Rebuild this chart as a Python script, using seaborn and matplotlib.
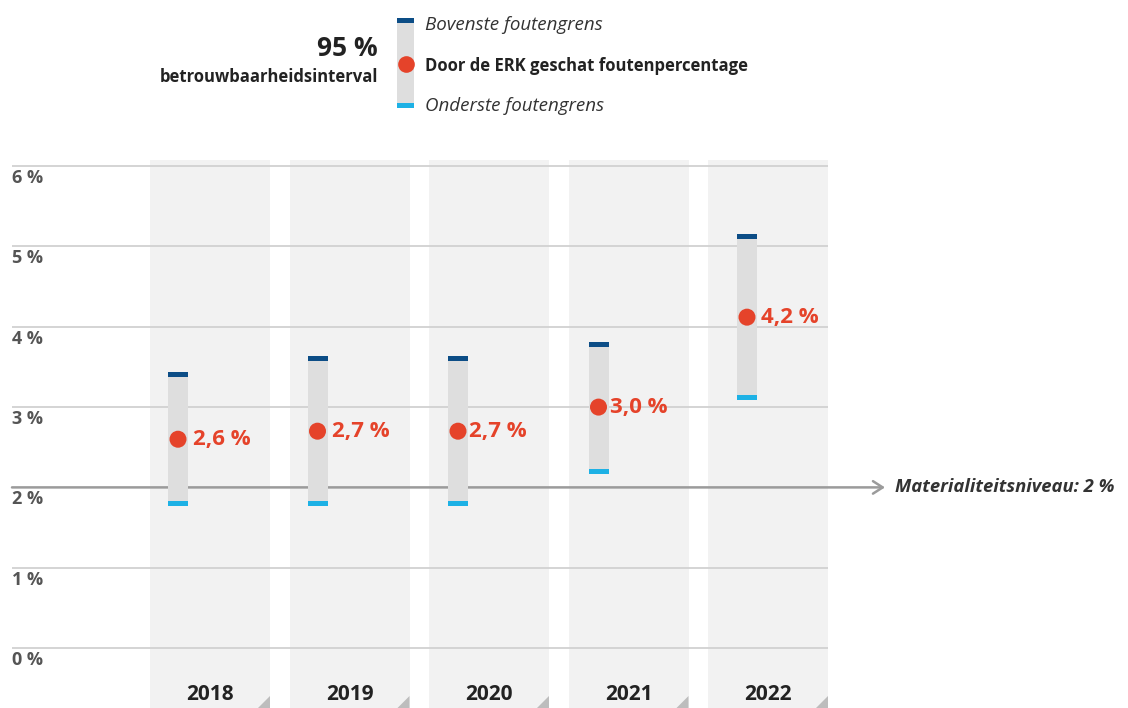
import numpy as np
import pandas as pd
import matplotlib
matplotlib.use("Agg")
import matplotlib.pyplot as plt
from matplotlib.patches import Rectangle
import seaborn as sns

# ---- data ----
years = ["2018", "2019", "2020", "2021", "2022"]
estimate = [2.6, 2.7, 2.7, 3.0, 4.12]
upper = [3.4, 3.6, 3.6, 3.78, 5.12]
lower = [1.8, 1.8, 1.8, 2.2, 3.12]
value_labels = ["2,6 %", "2,7 %", "2,7 %", "3,0 %", "4,2 %"]
y_ticks = [0, 1, 2, 3, 4, 5, 6]
y_tick_labels = ["0 %", "1 %", "2 %", "3 %", "4 %", "5 %", "6 %"]
materiality = 2.0
materiality_label = "Materialiteitsniveau: 2 %"

# ---- layout (pixels) ----
bar_offsets_px = [-32, -32, -31, -30, -21]
label_offsets_px = [15, 14, 11, 12, 14]

sns.set_style("white")
plt.rcParams["font.family"] = ["Open Sans", "DejaVu Sans"]

W, H = 1128, 708
fig = plt.figure(figsize=(W / 100, H / 100), dpi=100)
ax = fig.add_axes([0, 0, 1, 1])
ax.set_axis_off()

PX_PER_Y = 80.3
Y0_PX = 648
PX_PER_X = 139.5
X0_PX = 210
ax.set_xlim(-X0_PX / PX_PER_X, (W - X0_PX) / PX_PER_X)
ax.set_ylim((Y0_PX - H) / PX_PER_Y, Y0_PX / PX_PER_Y)
ybot = (Y0_PX - H) / PX_PER_Y

RED = "#E5432A"
DARKBLUE = "#0C4D86"
LIGHTBLUE = "#1DB1E5"
BARGREY = "#DEDEDE"
COLBG = "#F2F2F2"
GRID = "#D4D4D4"

x = np.arange(len(years))
col_w = 120 / PX_PER_X
bar_w = 20 / PX_PER_X

# column backgrounds
col_top = 6.08
ax.bar(x, col_top - ybot, bottom=ybot, width=col_w, color=COLBG, zorder=0, linewidth=0)

# corner triangles
tri_w = 12 / PX_PER_X
tri_h = 12 / PX_PER_Y
for xi in x:
    xr = xi + col_w / 2
    ax.fill([xr, xr, xr - tri_w], [ybot, ybot + tri_h, ybot], color="#BDBDBD", zorder=1, linewidth=0)

# gridlines
g_left = (12 - X0_PX) / PX_PER_X
g_right = (828 - X0_PX) / PX_PER_X
ax.hlines([t for t in y_ticks if t != materiality], g_left, g_right, color=GRID, lw=1.4, zorder=1)

# materiality line with arrow
arrow_end = (885 - X0_PX) / PX_PER_X
ax.annotate("", xy=(arrow_end, materiality), xytext=(g_left, materiality),
            arrowprops=dict(arrowstyle="->,head_length=0.7,head_width=0.45",
                            color="#9B9B9B", lw=1.8, shrinkA=0, shrinkB=0),
            zorder=2)
ax.text((895 - X0_PX) / PX_PER_X, materiality, materiality_label, fontsize=13.3,
        fontweight="bold", fontstyle="italic", color="#333333", va="center", ha="left")

# y tick labels
ytr = ax.get_yaxis_transform()
for t, lab in zip(y_ticks, y_tick_labels):
    ax.text(12 / W, t - 12 / PX_PER_Y, lab, transform=ytr, fontsize=13, fontweight="bold",
            color="#555555", va="center", ha="left")

# intervals
lower_a = np.array(lower)
upper_a = np.array(upper)
bx = x + np.array(bar_offsets_px) / PX_PER_X
ax.bar(bx, upper_a - lower_a, bottom=lower_a, width=bar_w, color=BARGREY, zorder=3, linewidth=0)
cap_h = 5 / PX_PER_Y
ax.bar(bx, cap_h, bottom=upper_a - cap_h / 2, width=bar_w, color=DARKBLUE, zorder=4, linewidth=0)
ax.bar(bx, cap_h, bottom=lower_a - cap_h / 2, width=bar_w, color=LIGHTBLUE, zorder=4, linewidth=0)

# estimate points
df = pd.DataFrame({"x": bx, "estimate": estimate})
sns.scatterplot(data=df, x="x", y="estimate", ax=ax, s=150, color=RED, edgecolor="none",
                zorder=5, legend=False)
ax.set_axis_off()
for xi, v, lab, off in zip(bx, estimate, value_labels, label_offsets_px):
    ax.text(xi + off / PX_PER_X, v, lab, fontsize=16, fontweight="bold", color=RED,
            va="center", ha="left", zorder=6)

# year labels
xtr = ax.get_xaxis_transform()
for xi, yr in zip(x, years):
    ax.text(xi, 1 - 694 / H, yr, transform=xtr, fontsize=15, fontweight="bold",
            color="#222222", ha="center", va="center")

# ---- legend (top) ----
def fx(px):
    return px / W

def fy(py):
    return 1 - py / H

T = ax.transAxes
ax.add_patch(Rectangle((fx(397), fy(108)), 17 / W, 90 / H, transform=T, color=BARGREY, lw=0, zorder=3))
ax.add_patch(Rectangle((fx(397), fy(23)), 17 / W, 5 / H, transform=T, color=DARKBLUE, lw=0, zorder=4))
ax.add_patch(Rectangle((fx(397), fy(108)), 17 / W, 5 / H, transform=T, color=LIGHTBLUE, lw=0, zorder=4))
ax.plot([fx(405.5)], [fy(64)], "o", transform=T, color=RED, markersize=12, markeredgewidth=0, zorder=5)

ax.text(fx(425), fy(25), "Bovenste foutengrens", transform=T, fontsize=13.5, fontstyle="italic",
        color="#333333", va="center", ha="left")
ax.text(fx(425), fy(66), "Door de ERK geschat foutenpercentage", transform=T, fontsize=12,
        fontweight="bold", color="#222222", va="center", ha="left")
ax.text(fx(425), fy(106), "Onderste foutengrens", transform=T, fontsize=13.5, fontstyle="italic",
        color="#333333", va="center", ha="left")
ax.text(fx(378), fy(49), "95 %", transform=T, fontsize=19, fontweight="bold",
        color="#222222", va="center", ha="right")
ax.text(fx(378), fy(77), "betrouwbaarheidsinterval", transform=T, fontsize=12,
        fontweight="bold", color="#222222", va="center", ha="right")

fig.savefig("out.png", dpi=100)
